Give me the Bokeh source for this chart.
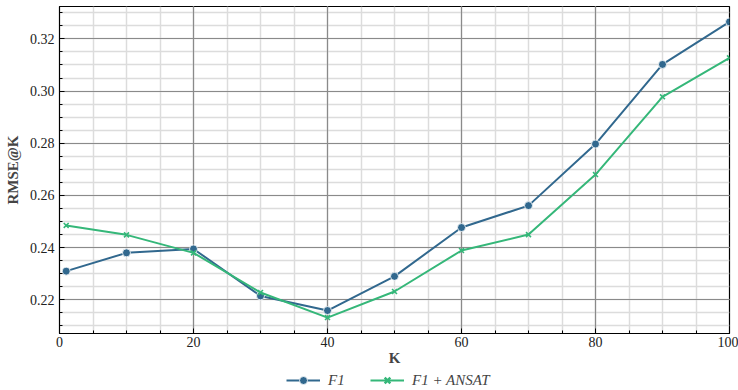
from bokeh.plotting import figure
from bokeh.layouts import column
from bokeh.models import LinearAxis, Legend, LegendItem, Range1d, FixedTicker, Grid, CustomJSTickFormatter
from bokeh.embed import file_html
from bokeh.resources import INLINE

k_values = [1, 10, 20, 30, 40, 50, 60, 70, 80, 90, 100]
rmse_f1 = [0.2310, 0.2380, 0.2395, 0.2215, 0.2159, 0.2290, 0.2477, 0.2561, 0.2797, 0.3102, 0.3265]
rmse_f1_ansat = [0.2485, 0.2449, 0.2380, 0.2228, 0.2132, 0.2232, 0.2389, 0.2450, 0.2680, 0.2978, 0.3127]
x_ticks = [0, 20, 40, 60, 80, 100]
y_ticks = [0.22, 0.24, 0.26, 0.28, 0.30, 0.32]
series_labels = ["F1", "F1 + ANSAT"]

c1 = "#31688e"
c2 = "#35b779"
FONT = "Liberation Serif"

p = figure(width=738, height=370, output_backend="svg", toolbar_location=None,
           x_range=Range1d(0, 100), y_range=Range1d(0.2071, 0.3324),
           x_axis_location=None, y_axis_location=None,
           min_border_left=59, min_border_right=9, min_border_top=6, min_border_bottom=37)
p.outline_line_color = "black"
p.outline_line_width = 1.2
p.background_fill_color = "white"
p.border_fill_color = "white"

x_minor = list(range(0, 101, 5))
y_minor = [round(0.205 + 0.005 * i, 3) for i in range(27)]

def mk_axis():
    ax = LinearAxis()
    ax.major_tick_in = 5
    ax.major_tick_out = 0
    ax.minor_tick_in = 3
    ax.minor_tick_out = 0
    ax.axis_line_color = "black"
    ax.major_tick_line_color = "black"
    ax.minor_tick_line_color = "black"
    ax.major_label_text_font = FONT
    ax.major_label_text_font_size = "14px"
    ax.major_label_text_color = "#222222"
    ax.major_label_standoff = 5
    return ax

xb = mk_axis()
xb.ticker = FixedTicker(ticks=x_ticks, minor_ticks=x_minor)
xb.major_label_standoff = 3
xb.axis_label = "K"
xb.axis_label_text_font = FONT
xb.axis_label_text_font_style = "bold"
xb.axis_label_text_font_size = "15px"
xb.axis_label_standoff = 0
p.add_layout(xb, "below")

yl = mk_axis()
yl.ticker = FixedTicker(ticks=y_ticks, minor_ticks=y_minor)
yl.formatter = CustomJSTickFormatter(code="return tick.toFixed(2);")
yl.axis_label = "RMSE@K"
yl.axis_label_text_font = FONT
yl.axis_label_text_font_style = "bold"
yl.axis_label_text_font_size = "15px"
yl.axis_label_standoff = 6
p.add_layout(yl, "left")

# minor grids first, major grids on top
for dim, ticks, minor in ((0, x_ticks, x_minor), (1, y_ticks, y_minor)):
    g = Grid(dimension=dim, ticker=FixedTicker(ticks=ticks, minor_ticks=minor))
    g.grid_line_color = None
    g.minor_grid_line_color = "#dcdcdc"
    g.minor_grid_line_width = 1.5
    p.add_layout(g, "center")
for dim, ticks in ((0, x_ticks), (1, y_ticks)):
    g = Grid(dimension=dim, ticker=FixedTicker(ticks=ticks))
    g.grid_line_color = "#8a8a8a"
    g.grid_line_width = 1.2
    p.add_layout(g, "center")

p.line(k_values, rmse_f1, line_color=c1, line_width=2)
p.scatter(k_values, rmse_f1, marker="circle", size=8, fill_color=c1, line_color="white", line_width=0.8)
p.line(k_values, rmse_f1_ansat, line_color=c2, line_width=2)
p.scatter(k_values, rmse_f1_ansat, marker="x", size=7, line_color=c2, line_width=1.6)

# legend strip below the chart (same series, ranges chosen so they stay off-view)
q = figure(width=738, height=20, output_backend="svg", toolbar_location=None,
           x_range=Range1d(-20, -10), y_range=Range1d(0, 1),
           x_axis_location=None, y_axis_location=None,
           min_border_left=0, min_border_right=0, min_border_top=0, min_border_bottom=0)
q.outline_line_color = None
q.xgrid.visible = False
q.ygrid.visible = False
ql1 = q.line(k_values, rmse_f1, line_color=c1, line_width=2)
qm1 = q.scatter(k_values, rmse_f1, marker="circle", size=8, fill_color=c1, line_color="white", line_width=0.8)
ql2 = q.line(k_values, rmse_f1_ansat, line_color=c2, line_width=2)
qm2 = q.scatter(k_values, rmse_f1_ansat, marker="x", size=7, line_color=c2, line_width=2.5)

legend = Legend(items=[LegendItem(label=series_labels[0], renderers=[ql1, qm1]),
                       LegendItem(label=series_labels[1], renderers=[ql2, qm2])],
                orientation="horizontal", location=(227, 0))
legend.label_text_font = FONT
legend.label_text_font_style = "italic"
legend.label_text_font_size = "15px"
legend.border_line_color = None
legend.background_fill_alpha = 0
legend.glyph_width = 34
legend.label_standoff = 8
legend.spacing = 22
legend.padding = 0
legend.margin = 0
q.add_layout(legend, "center")

open("out.html", "w").write(file_html(column(p, q, spacing=0), INLINE))
